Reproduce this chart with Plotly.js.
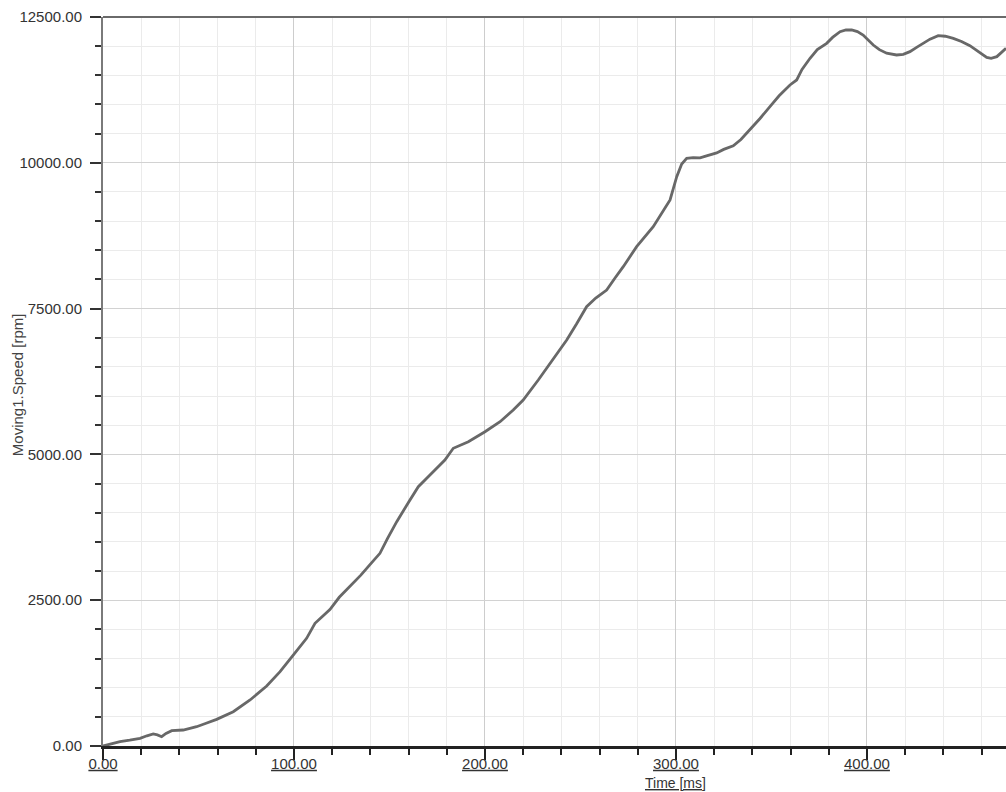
<!DOCTYPE html>
<html>
<head>
<meta charset="utf-8">
<script src="https://cdn.plot.ly/plotly-3.0.1.min.js"></script>
<style>
html,body{margin:0;padding:0;background:#fff;}
#chart{width:1006px;height:792px;}
</style>
</head>
<body>
<div id="chart"></div>
<script>
// Time [ms]
var timeMs = [0, 4, 8.9, 14, 19.4, 23, 26.3, 28.5, 30.7, 33, 36, 42, 49, 54, 59.5, 68.2, 77, 85.7, 92.7, 99.6, 106.6, 111, 118.8, 123.7, 129.3, 135, 140.7, 145, 149, 153.8, 160, 165.1, 171.2, 179, 183.4, 191.3, 200, 207.9, 214.8, 220, 227.9, 232.3, 237, 242.8, 248, 253.2, 258, 263.7, 268, 272.4, 279.4, 288.1, 296.9, 300.4, 303, 305.6, 309, 312.6, 316, 321.3, 325, 330, 334, 338.7, 344, 349.2, 354, 359.7, 363.2, 366, 370.2, 374, 378.9, 382, 385.9, 389, 392, 395, 398, 403.3, 406.5, 410.3, 415.5, 419, 422.5, 426, 429.5, 433, 437.3, 441, 445.2, 449.5, 453.9, 458, 462.7, 465, 468, 472.8];
// Moving1.Speed [rpm]
var speedRpm = [0, 35, 74, 100, 132, 175, 206, 190, 160, 215, 262, 274, 331, 390, 457, 588, 789, 1029, 1274, 1560, 1846, 2104, 2340, 2550, 2732, 2930, 3143, 3304, 3560, 3846, 4180, 4446, 4647, 4904, 5105, 5218, 5389, 5561, 5761, 5933, 6276, 6476, 6700, 6962, 7240, 7533, 7680, 7819, 8020, 8219, 8562, 8905, 9362, 9762, 9980, 10077, 10090, 10085, 10120, 10170, 10230, 10290, 10400, 10563, 10760, 10962, 11150, 11334, 11420, 11600, 11792, 11940, 12049, 12150, 12248, 12280, 12277, 12250, 12191, 12020, 11940, 11880, 11849, 11860, 11906, 11980, 12049, 12120, 12180, 12170, 12134, 12080, 12008, 11920, 11806, 11790, 11820, 11963];

var xTickVals = [0, 100, 200, 300, 400];
var xTickText = ['0.00', '100.00', '200.00', '300.00', '400.00'];
var yTickVals = [0, 2500, 5000, 7500, 10000, 12500];
var yTickText = ['0.00', '2500.00', '5000.00', '7500.00', '10000.00', '12500.00'];
var xTitle = 'Time [ms]';
var yTitle = 'Moving1.Speed [rpm]';

var trace = {
  x: timeMs,
  y: speedRpm,
  type: 'scatter',
  mode: 'lines',
  line: {color: '#686868', width: 2.8},
  hoverinfo: 'x+y'
};

var fontFam = 'Liberation Sans, Arial, sans-serif';

var layout = {
  width: 1006,
  height: 792,
  margin: {l: 103, r: 0, t: 17, b: 46},
  paper_bgcolor: '#ffffff',
  plot_bgcolor: '#ffffff',
  showlegend: false,
  font: {family: fontFam, size: 15, color: '#333333'},
  xaxis: {
    range: [0, 472.8],
    tickmode: 'array',
    tickvals: xTickVals,
    ticktext: xTickText.map(function(s){return '<u>' + s + '</u>';}),
    ticks: 'outside',
    ticklen: 11,
    tickwidth: 2,
    tickcolor: '#222222',
    showline: true,
    linecolor: '#222222',
    linewidth: 2.5,
    showgrid: true,
    gridcolor: '#cdcdcd',
    gridwidth: 1,
    zeroline: false,
    tickfont: {family: fontFam, size: 15, color: '#333333'},
    ticklabelstandoff: -9,
    minor: {dtick: 20, tick0: 0, showgrid: true, gridcolor: '#ebebeb', gridwidth: 1, ticks: 'outside', ticklen: 6, tickwidth: 2, tickcolor: '#222222'},
    fixedrange: true
  },
  yaxis: {
    range: [0, 12500],
    tickmode: 'array',
    tickvals: yTickVals,
    ticktext: yTickText,
    ticks: 'outside',
    ticklen: 11,
    tickwidth: 2,
    tickcolor: '#333333',
    showline: true,
    linecolor: '#7a7a7a',
    linewidth: 2,
    showgrid: true,
    gridcolor: '#d2d2d2',
    gridwidth: 1,
    zeroline: false,
    tickfont: {family: fontFam, size: 15, color: '#333333'},
    ticklabelstandoff: 5,
    minor: {dtick: 500, tick0: 0, showgrid: true, gridcolor: '#ebebeb', gridwidth: 1, ticks: 'outside', ticklen: 6, tickwidth: 2, tickcolor: '#333333'},
    fixedrange: true
  },
  shapes: [{
    type: 'line', xref: 'paper', yref: 'paper', x0: 0, x1: 1, y0: 1, y1: 1,
    line: {color: '#6a6a6a', width: 2}
  }],
  annotations: [{
    text: '<u>' + xTitle + '</u>',
    xref: 'x', yref: 'paper', x: 300, y: 0, yshift: -37,
    xanchor: 'center', yanchor: 'middle', showarrow: false,
    font: {family: fontFam, size: 14, color: '#333333'}
  }, {
    text: yTitle,
    xref: 'paper', yref: 'paper', x: 0, y: 0.495, xshift: -86,
    xanchor: 'center', yanchor: 'middle', textangle: -90, showarrow: false,
    font: {family: fontFam, size: 15, color: '#444444'}
  }]
};

Plotly.newPlot('chart', [trace], layout, {displayModeBar: false});
</script>
</body>
</html>
